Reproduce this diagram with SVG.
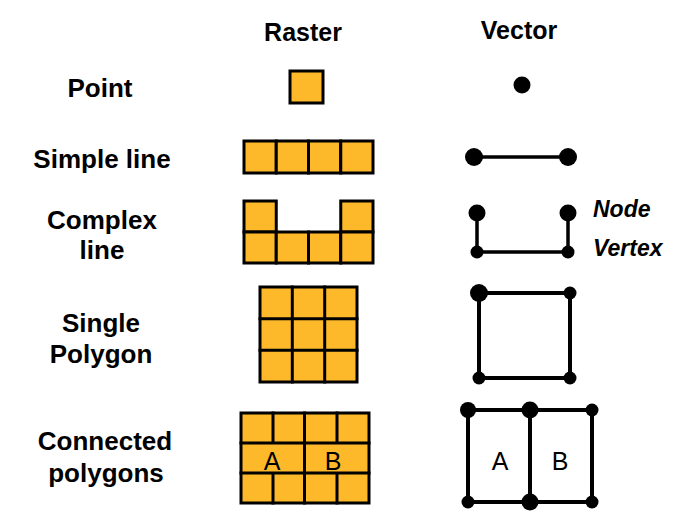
<svg xmlns="http://www.w3.org/2000/svg" width="694" height="522" viewBox="0 0 694 522">
<style>
.lbl{font-family:"Liberation Sans",Arial,sans-serif;font-weight:bold;font-size:26px;fill:#000;text-anchor:middle}
.hdr{font-family:"Liberation Sans",Arial,sans-serif;font-weight:bold;font-size:25px;fill:#000;text-anchor:middle}
.it{font-family:"Liberation Sans",Arial,sans-serif;font-weight:bold;font-style:italic;font-size:23px;fill:#000}
.ab{font-family:"Liberation Sans",Arial,sans-serif;font-size:25px;fill:#000;text-anchor:middle}
.cell{fill:#FDB92A;stroke:#000;stroke-width:3}
.ln{stroke:#000;stroke-width:3.5;fill:none;stroke-linecap:square}
.dot{fill:#000}
</style>
<rect width="694" height="522" fill="#fff"/>
<g id="headers">
<text class="hdr" x="303" y="41">Raster</text>
<text class="hdr" x="519" y="39">Vector</text>
</g>
<g id="labels">
<text class="lbl" x="100" y="97">Point</text>
<text class="lbl" x="102" y="168">Simple line</text>
<text class="lbl" x="102" y="229">Complex</text>
<text class="lbl" x="102" y="259">line</text>
<text class="lbl" x="101" y="332">Single</text>
<text class="lbl" x="101" y="363">Polygon</text>
<text class="lbl" x="105" y="450">Connected</text>
<text class="lbl" x="106" y="482">polygons</text>
</g>
<g id="raster-point">
<rect class="cell" x="290" y="71" width="33" height="32"/>
</g>
<g id="raster-simple-line">
<rect class="cell" x="244" y="141" width="32.25" height="32"/>
<rect class="cell" x="276.25" y="141" width="32.25" height="32"/>
<rect class="cell" x="308.5" y="141" width="32.25" height="32"/>
<rect class="cell" x="340.75" y="141" width="32.25" height="32"/>
</g>
<g id="raster-complex-line">
<rect class="cell" x="244" y="201" width="32.25" height="31"/>
<rect class="cell" x="340.75" y="201" width="32.25" height="31"/>
<rect class="cell" x="244" y="232" width="32.25" height="31"/>
<rect class="cell" x="276.25" y="232" width="32.25" height="31"/>
<rect class="cell" x="308.5" y="232" width="32.25" height="31"/>
<rect class="cell" x="340.75" y="232" width="32.25" height="31"/>
</g>
<g id="raster-single-polygon">
<rect class="cell" x="260" y="287" width="97" height="95"/>
<path class="ln" style="stroke-width:3" d="M292.3 287V382M324.7 287V382M260 318.7H357M260 350.3H357"/>
</g>
<g id="raster-connected-polygons">
<rect class="cell" x="241" y="413" width="128" height="90"/>
<path class="ln" style="stroke-width:3" d="M241 443H369M241 473H369M273 413V443M304.5 413V503M337 413V443M273 473V503M337 473V503"/>
<text class="ab" x="272" y="470">A</text>
<text class="ab" x="333" y="470">B</text>
</g>
<g id="vector-point">
<circle class="dot" cx="522" cy="85" r="8.5"/>
</g>
<g id="connectors">
<path class="ln" d="M474 157H568"/>
<path class="ln" d="M477 213V252H568V213"/>
<path class="ln" style="stroke-width:4" d="M479 293H570V378H479Z"/>
<path class="ln" style="stroke-width:4" d="M468 410H592V502H468ZM530 410V502"/>
</g>
<g id="vector-simple-line">
<circle class="dot" cx="474" cy="157" r="9"/>
<circle class="dot" cx="568" cy="157" r="9"/>
</g>
<g id="vector-complex-line">
<circle class="dot" cx="477" cy="213" r="8.5"/>
<circle class="dot" cx="568" cy="213" r="8.5"/>
<circle class="dot" cx="477" cy="252" r="6.5"/>
<circle class="dot" cx="568" cy="252" r="6.5"/>
<text class="it" x="593" y="217">Node</text>
<text class="it" x="593" y="256">Vertex</text>
</g>
<g id="vector-single-polygon">
<circle class="dot" cx="479" cy="293" r="9"/>
<circle class="dot" cx="570" cy="293" r="6.5"/>
<circle class="dot" cx="479" cy="378" r="6.5"/>
<circle class="dot" cx="570" cy="378" r="6.5"/>
</g>
<g id="vector-connected-polygons">
<circle class="dot" cx="468" cy="410" r="8"/>
<circle class="dot" cx="530" cy="410" r="8.5"/>
<circle class="dot" cx="592" cy="410" r="6.5"/>
<circle class="dot" cx="468" cy="502" r="6.5"/>
<circle class="dot" cx="530" cy="502" r="8.5"/>
<circle class="dot" cx="592" cy="502" r="6.5"/>
<text class="ab" x="500" y="470">A</text>
<text class="ab" x="560" y="470">B</text>
</g>
</svg>
